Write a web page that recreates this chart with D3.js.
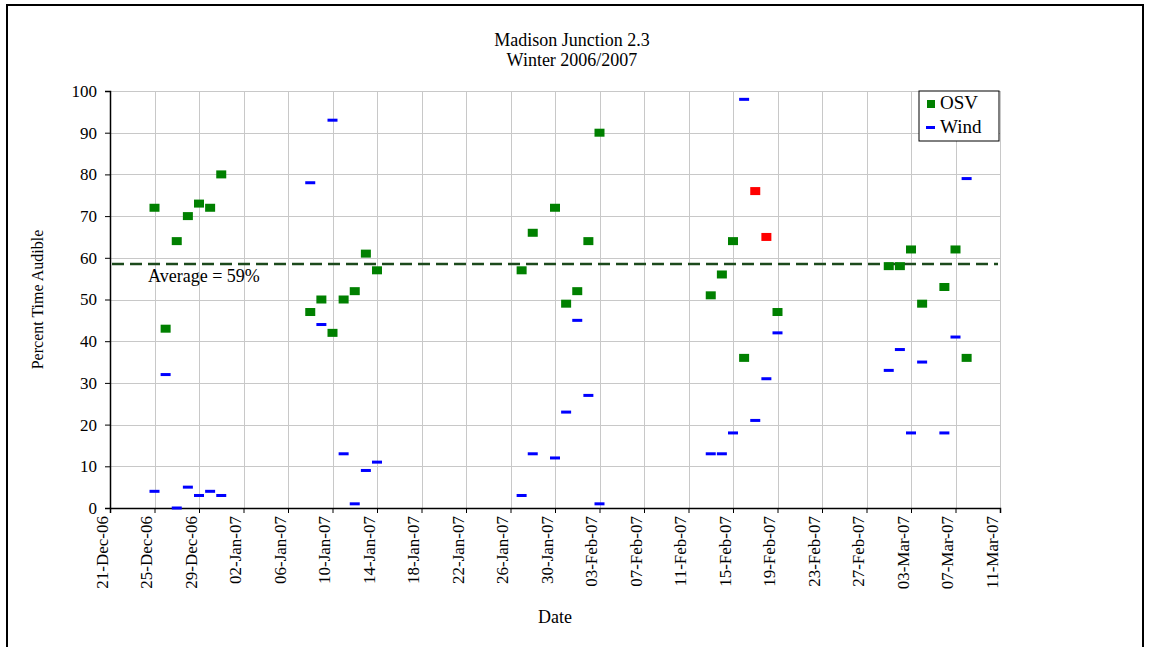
<!DOCTYPE html>
<html>
<head>
<meta charset="utf-8">
<script src="https://cdn.jsdelivr.net/npm/d3@7"></script>
<style>
  body { margin: 0; background: #fff; }
  svg, svg text { font-family: "Liberation Serif", "DejaVu Serif", serif !important; }
</style>
</head>
<body>
<div id="chart"></div>
<script>
// OSV readings (percent time audible)
const osvDates = ['2006-12-25','2006-12-26','2006-12-27','2006-12-28','2006-12-29','2006-12-30','2006-12-31',
  '2007-01-08','2007-01-09','2007-01-10','2007-01-11','2007-01-12','2007-01-13','2007-01-14',
  '2007-01-27','2007-01-28','2007-01-30','2007-01-31','2007-02-01','2007-02-02','2007-02-03',
  '2007-02-13','2007-02-14','2007-02-15','2007-02-16','2007-02-17','2007-02-18','2007-02-19',
  '2007-03-01','2007-03-02','2007-03-03','2007-03-04','2007-03-06','2007-03-07','2007-03-08'];
const osvValues = [72, 43, 64, 70, 73, 72, 80,
  47, 50, 42, 50, 52, 61, 57,
  57, 66, 72, 49, 52, 64, 90,
  51, 56, 64, 36, 76, 65, 47,
  58, 58, 62, 49, 53, 62, 36];
// highlighted (red) OSV days
const osvHighlight = ['2007-02-17', '2007-02-18'];

// Wind readings
const windDates = osvDates;
const windValues = [4, 32, 0, 5, 3, 4, 3,
  78, 44, 93, 13, 1, 9, 11,
  3, 13, 12, 23, 45, 27, 1,
  13, 13, 18, 98, 21, 31, 42,
  33, 38, 18, 35, 18, 41, 79];

const average = 58.5;
const yTicks = [0, 10, 20, 30, 40, 50, 60, 70, 80, 90, 100];
const xStart = '2006-12-21', xEnd = '2007-03-11';

const W = 1151, H = 647;
const margin = { left: 110, right: 151, top: 91, bottom: 139 };
const parse = d3.timeParse('%Y-%m-%d');

const svg = d3.select('#chart').append('svg').attr('width', W).attr('height', H);

// outer frame
svg.append('path')
  .attr('d', `M7,${H} L7,5 L1143,5 L1143,${H}`)
  .attr('fill', 'none').attr('stroke', '#000').attr('stroke-width', 2);

const x = d3.scaleTime()
  .domain([parse(xStart), parse(xEnd)])
  .range([margin.left, W - margin.right]);
const y = d3.scaleLinear().domain([0, 100]).range([H - margin.bottom, margin.top]);

const xTicks = d3.timeDay.range(parse(xStart), d3.timeDay.offset(parse(xEnd), 1), 4);

// grid
const grid = svg.append('g').attr('stroke', '#c8c8c8').attr('stroke-width', 1);
grid.selectAll('.gy').data(yTicks.slice(1)).enter().append('line')
  .attr('x1', x.range()[0]).attr('x2', x.range()[1])
  .attr('y1', d => Math.round(y(d)) + 0.5).attr('y2', d => Math.round(y(d)) + 0.5);
grid.selectAll('.gx').data(xTicks.slice(1)).enter().append('line')
  .attr('x1', d => Math.round(x(d)) + 0.5).attr('x2', d => Math.round(x(d)) + 0.5)
  .attr('y1', y(0)).attr('y2', y(100));

// axes
const yAxis = svg.append('g')
  .attr('transform', `translate(${x.range()[0]},0)`)
  .call(d3.axisLeft(y).tickValues(yTicks).tickSize(5).tickPadding(8));
const xAxis = svg.append('g')
  .attr('transform', `translate(0,${y(0)})`)
  .call(d3.axisBottom(x).tickValues(xTicks).tickSize(5).tickFormat(d3.timeFormat('%d-%b-%y')));

[yAxis, xAxis].forEach(a => {
  a.attr('font-family', null).attr('font-size', null);
  a.select('.domain').attr('stroke', '#000').attr('stroke-width', 1.5);
  a.selectAll('.tick line').attr('stroke', '#000');
  a.selectAll('text').style('font-size', '17px').attr('fill', '#000');
});
xAxis.selectAll('.tick text')
  .attr('text-anchor', 'end')
  .attr('transform', 'translate(-6,8) rotate(-90)')
  .attr('dy', '0.2em').attr('dx', 0).attr('y', 0).attr('x', 0);

// average line
svg.append('line')
  .attr('x1', x.range()[0] + 2).attr('x2', x.range()[1] - 2)
  .attr('y1', y(average)).attr('y2', y(average))
  .attr('stroke', '#1c4a1c').attr('stroke-width', 2.5).attr('stroke-dasharray', '12,6');
svg.append('text')
  .attr('x', 148).attr('y', y(average) + 18)
  .style('font-size', '18px').text('Average = 59%');

// wind marks
svg.append('g').selectAll('rect').data(windDates).enter().append('rect')
  .attr('x', d => x(parse(d)) - 5)
  .attr('y', (d, i) => y(windValues[i]) - 1.5)
  .attr('width', 10).attr('height', 3)
  .attr('fill', '#0000ff');

// OSV marks
svg.append('g').selectAll('rect').data(osvDates).enter().append('rect')
  .attr('x', d => x(parse(d)) - 5)
  .attr('y', (d, i) => y(osvValues[i]) - 4)
  .attr('width', 10).attr('height', 8)
  .attr('fill', d => osvHighlight.includes(d) ? '#ff0000' : '#008000');

// titles
svg.append('text').attr('x', 572).attr('y', 46).attr('text-anchor', 'middle')
  .style('font-size', '18px').text('Madison Junction 2.3');
svg.append('text').attr('x', 572).attr('y', 66).attr('text-anchor', 'middle')
  .style('font-size', '18px').text('Winter 2006/2007');
svg.append('text').attr('x', 555).attr('y', 623).attr('text-anchor', 'middle')
  .style('font-size', '18px').text('Date');
svg.append('text')
  .attr('transform', `translate(43,${(y(0) + y(100)) / 2}) rotate(-90)`)
  .attr('text-anchor', 'middle').style('font-size', '16px').text('Percent Time Audible');

// legend
const lg = svg.append('g').attr('transform', 'translate(919,91)');
lg.append('rect').attr('width', 80).attr('height', 50)
  .attr('fill', '#fff').attr('stroke', '#000').attr('stroke-width', 1);
lg.append('rect').attr('x', 8).attr('y', 9).attr('width', 8).attr('height', 8).attr('fill', '#008000');
lg.append('text').attr('x', 21).attr('y', 18).style('font-size', '19px').text('OSV');
lg.append('rect').attr('x', 7).attr('y', 35).attr('width', 9).attr('height', 3).attr('fill', '#0000ff');
lg.append('text').attr('x', 21).attr('y', 42).style('font-size', '19px').text('Wind');
</script>
</body>
</html>
